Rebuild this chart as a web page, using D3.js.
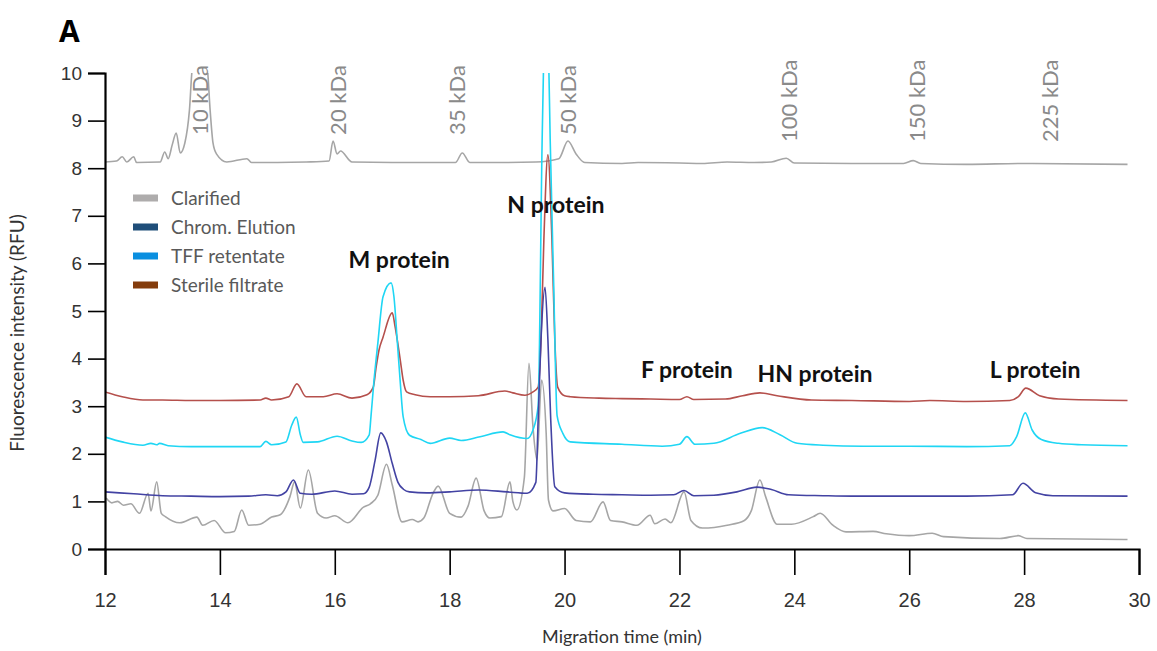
<!DOCTYPE html>
<html>
<head>
<meta charset="utf-8">
<script src="https://cdn.jsdelivr.net/npm/d3@7"></script>
<style>
  html, body { margin: 0; padding: 0; background: #ffffff; }
  svg { display: block; font-family: Lato, "Open Sans", sans-serif; }
</style>
</head>
<body>
<div id="chart"></div>
<script>
// Capillary electrophoresis traces
// each point is [migration time (min), fluorescence (RFU)]

const ladderTrace = [
  [12.0, 8.13], [12.2, 8.15], [12.3, 8.24], [12.38, 8.13], [12.5, 8.24], [12.55, 8.12],
  [12.96, 8.13], [13.04, 8.34], [13.1, 8.2], [13.17, 8.49], [13.24, 8.74], [13.31, 8.32],
  [13.39, 8.53], [13.47, 9.22], [13.52, 10.1], [13.65, 10.5], [13.78, 10.1], [13.83, 9.22],
  [13.88, 8.53], [13.94, 8.3], [14.12, 8.13], [14.47, 8.2], [14.55, 8.12], [15.0, 8.12],
  [15.5, 8.13], [15.9, 8.15], [15.97, 8.57], [16.04, 8.3], [16.1, 8.36], [16.3, 8.13],
  [17.0, 8.12], [18.1, 8.12], [18.22, 8.32], [18.35, 8.12], [19.0, 8.12], [19.5, 8.13],
  [19.9, 8.2], [20.06, 8.57], [20.2, 8.3], [20.35, 8.12], [21.0, 8.1], [21.28, 8.12],
  [22.0, 8.11], [22.4, 8.1], [22.83, 8.13], [23.3, 8.12], [23.6, 8.13], [23.86, 8.21],
  [24.0, 8.11], [25.0, 8.1], [25.9, 8.1], [26.07, 8.16], [26.2, 8.1], [27.0, 8.08],
  [28.0, 8.1], [29.8, 8.08]
];

const clarifiedTrace = [
  [12.02, 1.07], [12.12, 0.97], [12.22, 1.0], [12.32, 0.92], [12.45, 0.95], [12.6, 0.75],
  [12.75, 1.17], [12.8, 0.8], [12.9, 1.41], [12.98, 0.75], [13.05, 0.68], [13.3, 0.55],
  [13.6, 0.67], [13.7, 0.5], [13.9, 0.6], [14.1, 0.34], [14.25, 0.37], [14.38, 0.82],
  [14.5, 0.5], [14.7, 0.52], [14.9, 0.67], [15.05, 0.72], [15.22, 1.1], [15.3, 1.41],
  [15.4, 0.86], [15.54, 1.66], [15.7, 0.75], [15.85, 0.65], [16.0, 0.7], [16.23, 0.55],
  [16.5, 0.88], [16.62, 0.95], [16.75, 1.13], [16.9, 1.78], [17.0, 1.35], [17.17, 0.57],
  [17.35, 0.62], [17.45, 0.57], [17.55, 0.65], [17.71, 1.17], [17.8, 1.32], [18.0, 0.75],
  [18.2, 0.67], [18.32, 0.9], [18.46, 1.49], [18.6, 0.8], [18.7, 0.65], [18.9, 0.68],
  [19.05, 1.41], [19.1, 1.0], [19.17, 0.82], [19.3, 1.5], [19.38, 3.9], [19.45, 2.57],
  [19.52, 1.87], [19.6, 3.55], [19.68, 2.43], [19.72, 1.03], [19.8, 0.8], [20.0, 0.85],
  [20.2, 0.6], [20.45, 0.57], [20.67, 0.99], [20.8, 0.6], [21.0, 0.57], [21.26, 0.5],
  [21.49, 0.71], [21.57, 0.53], [21.75, 0.63], [21.85, 0.55], [22.08, 1.2], [22.2, 0.6],
  [22.4, 0.44], [22.83, 0.5], [23.13, 0.6], [23.25, 0.8], [23.4, 1.45], [23.5, 1.1],
  [23.7, 0.52], [23.95, 0.52], [24.33, 0.68], [24.45, 0.75], [24.67, 0.5], [24.9, 0.36],
  [25.37, 0.37], [25.6, 0.32], [26.0, 0.28], [26.4, 0.33], [26.6, 0.26], [27.58, 0.22],
  [27.9, 0.28], [28.05, 0.22], [29.8, 0.2]
];

const elutionTrace = [
  [12.0, 1.2], [12.5, 1.16], [13.0, 1.12], [13.5, 1.11], [14.0, 1.1], [14.5, 1.11],
  [14.8, 1.14], [15.0, 1.12], [15.15, 1.2], [15.28, 1.45], [15.4, 1.17], [15.6, 1.15],
  [16.0, 1.22], [16.3, 1.15], [16.5, 1.16], [16.6, 1.3], [16.7, 1.85], [16.8, 2.44],
  [16.9, 2.25], [17.0, 1.8], [17.1, 1.4], [17.2, 1.25], [17.3, 1.2], [17.6, 1.18],
  [18.0, 1.2], [18.5, 1.24], [19.0, 1.2], [19.35, 1.17], [19.5, 1.4], [19.54, 2.7],
  [19.59, 4.4], [19.66, 5.5], [19.71, 4.4], [19.76, 2.7], [19.83, 1.31], [20.0, 1.18],
  [20.5, 1.15], [21.0, 1.14], [21.5, 1.13], [21.9, 1.14], [22.08, 1.23], [22.25, 1.12],
  [22.6, 1.13], [23.0, 1.2], [23.35, 1.3], [23.6, 1.25], [23.9, 1.14], [24.5, 1.12],
  [25.0, 1.11], [26.0, 1.11], [27.0, 1.11], [27.8, 1.14], [27.98, 1.38], [28.2, 1.18],
  [28.5, 1.12], [29.8, 1.11]
];

const retentateTrace = [
  [12.0, 2.35], [12.3, 2.25], [12.66, 2.18], [12.8, 2.22], [12.9, 2.19], [12.95, 2.22],
  [13.1, 2.17], [13.5, 2.15], [14.0, 2.15], [14.7, 2.15], [14.8, 2.26], [14.9, 2.19],
  [15.15, 2.25], [15.25, 2.6], [15.33, 2.77], [15.4, 2.4], [15.45, 2.24], [15.7, 2.25],
  [16.04, 2.37], [16.3, 2.27], [16.46, 2.24], [16.6, 2.4], [16.63, 2.78], [16.68, 3.5],
  [16.75, 4.33], [16.84, 5.3], [16.98, 5.59], [17.03, 5.3], [17.09, 4.33], [17.14, 3.5],
  [17.19, 2.78], [17.3, 2.39], [17.5, 2.3], [17.66, 2.22], [18.0, 2.33], [18.2, 2.28],
  [18.53, 2.36], [18.93, 2.46], [19.05, 2.4], [19.35, 2.32], [19.45, 2.5], [19.54, 3.0],
  [19.61, 8.6], [19.64, 10.5], [19.68, 12.0], [19.72, 10.5], [19.75, 8.6], [19.81, 5.6],
  [19.87, 2.8], [19.97, 2.43], [20.1, 2.25], [21.0, 2.2], [21.7, 2.16], [22.0, 2.2],
  [22.13, 2.36], [22.27, 2.2], [22.6, 2.22], [23.06, 2.43], [23.44, 2.55], [23.75, 2.4],
  [24.05, 2.22], [24.5, 2.18], [25.2, 2.16], [26.0, 2.16], [27.0, 2.15], [27.75, 2.17],
  [27.87, 2.36], [28.02, 2.86], [28.14, 2.5], [28.3, 2.3], [28.6, 2.22], [29.0, 2.19],
  [29.8, 2.17]
];

const filtrateTrace = [
  [12.0, 3.3], [12.3, 3.2], [12.66, 3.13], [13.0, 3.13], [13.5, 3.12], [14.0, 3.12],
  [14.7, 3.13], [14.8, 3.17], [14.9, 3.13], [15.2, 3.2], [15.34, 3.47], [15.5, 3.2],
  [15.8, 3.2], [16.04, 3.26], [16.3, 3.17], [16.56, 3.24], [16.67, 3.4], [16.72, 3.82],
  [16.77, 4.18], [16.84, 4.45], [17.0, 4.96], [17.05, 4.67], [17.14, 3.97], [17.19, 3.55],
  [17.25, 3.3], [17.4, 3.24], [17.66, 3.2], [18.0, 3.2], [18.5, 3.22], [18.96, 3.32],
  [19.1, 3.28], [19.31, 3.23], [19.45, 3.3], [19.54, 3.4], [19.59, 4.4], [19.64, 6.5],
  [19.71, 8.28], [19.78, 6.5], [19.83, 4.4], [19.88, 3.4], [20.0, 3.22], [20.1, 3.2],
  [20.6, 3.17], [21.0, 3.16], [21.5, 3.15], [22.0, 3.14], [22.13, 3.2], [22.25, 3.14],
  [22.8, 3.15], [23.1, 3.22], [23.4, 3.28], [23.7, 3.22], [24.3, 3.13], [25.0, 3.12],
  [26.0, 3.1], [26.36, 3.12], [27.0, 3.1], [27.75, 3.12], [27.9, 3.2], [28.03, 3.38],
  [28.27, 3.22], [28.6, 3.15], [29.8, 3.12]
];

// ladder size markers: label, migration time, RFU at the foot of the label
const ladderLabels = ['10 kDa', '20 kDa', '35 kDa', '50 kDa', '100 kDa', '150 kDa', '225 kDa'];
const ladderTimes = [13.65, 16.05, 18.13, 20.06, 23.9, 26.14, 28.45];
const ladderLevels = [8.7, 8.7, 8.7, 8.7, 8.55, 8.55, 8.55];

// protein peak annotations
const proteinLabels = ['M protein', 'N protein', 'F protein', 'HN protein', 'L protein'];
const proteinTimes = [17.12, 19.85, 22.13, 24.36, 28.19];
const proteinLevels = [5.9, 7.06, 3.6, 3.5, 3.6];

const legendLabels = ['Clarified', 'Chrom. Elution', 'TFF retentate', 'Sterile filtrate'];
const legendColors = ['#aeacac', '#1f4e79', '#0a8fe0', '#843c0c'];

const xTicks = [12, 14, 16, 18, 20, 22, 24, 26, 28, 30];
const yTicks = [0, 1, 2, 3, 4, 5, 6, 7, 8, 9, 10];

document.addEventListener('DOMContentLoaded', function() {
  const width = 1157;
  const height = 651;
  const margin = { top: 73, right: 18, bottom: 102, left: 105 };

  const svg = d3.select('#chart')
    .append('svg')
    .attr('width', width)
    .attr('height', height);

  const x = d3.scaleLinear().domain([12, 30]).range([margin.left, width - margin.right]);
  const y = d3.scaleLinear().domain([0, 10]).range([height - margin.bottom, margin.top]);

  // clip traces at the plot frame (ladder + N peak run off the top)
  svg.append('clipPath')
    .attr('id', 'plot-clip')
    .append('rect')
    .attr('x', x(12))
    .attr('y', y(10))
    .attr('width', x(30) - x(12))
    .attr('height', y(0) - y(10));

  const line = d3.line()
    .x(d => x(d[0]))
    .y(d => y(d[1]))
    .curve(d3.curveMonotoneX);

  const traces = [
    { data: ladderTrace, color: '#a6a6a6' },
    { data: clarifiedTrace, color: '#a6a6a6' },
    { data: filtrateTrace, color: '#b5504c' },
    { data: retentateTrace, color: '#1fd6f4' },
    { data: elutionTrace, color: '#4343a3' }
  ];

  const plot = svg.append('g').attr('clip-path', 'url(#plot-clip)');
  plot.selectAll('path')
    .data(traces)
    .enter()
    .append('path')
    .attr('d', d => line(d.data))
    .attr('fill', 'none')
    .attr('stroke', d => d.color)
    .attr('stroke-width', 1.6)
    .attr('stroke-linejoin', 'round');

  // axes
  const xAxis = svg.append('g')
    .attr('transform', `translate(0,${y(0)})`)
    .call(d3.axisBottom(x).tickValues(xTicks).tickSize(26).tickPadding(18).tickFormat(d3.format('d')));
  xAxis.select('.domain').attr('stroke', '#000').attr('stroke-width', 2.2);
  xAxis.selectAll('.tick line').attr('stroke', '#000').attr('stroke-width', 1.6);
  xAxis.selectAll('.tick text')
    .attr('fill', '#333')
    .style('font-size', '20px');

  const yAxis = svg.append('g')
    .attr('transform', `translate(${x(12)},0)`)
    .call(d3.axisLeft(y).tickValues(yTicks).tickSize(17).tickPadding(6));
  yAxis.select('.domain').attr('stroke', '#000').attr('stroke-width', 2.2);
  yAxis.selectAll('.tick line').attr('stroke', '#000').attr('stroke-width', 1.6);
  yAxis.selectAll('.tick text')
    .attr('fill', '#333')
    .style('font-size', '19px');

  // axis titles
  svg.append('text')
    .attr('x', (x(12) + x(30)) / 2)
    .attr('y', 643)
    .attr('text-anchor', 'middle')
    .attr('fill', '#333')
    .style('font-size', '18px')
    .text('Migration time (min)');

  svg.append('text')
    .attr('transform', `translate(24,${(y(0) + y(10)) / 2 + 22}) rotate(-90)`)
    .attr('text-anchor', 'middle')
    .attr('fill', '#333')
    .style('font-size', '19px')
    .text('Fluorescence intensity (RFU)');

  // panel letter
  svg.append('text')
    .attr('x', 59)
    .attr('y', 42)
    .attr('fill', '#000')
    .style('font-family', '"Open Sans", Lato, sans-serif')
    .style('font-size', '30px')
    .style('font-weight', 'bold')
    .text('A');

  // ladder size labels
  svg.append('g')
    .selectAll('text')
    .data(ladderLabels)
    .enter()
    .append('text')
    .attr('transform', (d, i) => `translate(${x(ladderTimes[i])},${y(ladderLevels[i])}) rotate(-90)`)
    .attr('dy', '0.36em')
    .attr('fill', '#8a8a8a')
    .style('font-size', '22px')
    .text(d => d);

  // protein annotations
  svg.append('g')
    .selectAll('text')
    .data(proteinLabels)
    .enter()
    .append('text')
    .attr('x', (d, i) => x(proteinTimes[i]))
    .attr('y', (d, i) => y(proteinLevels[i]))
    .attr('text-anchor', 'middle')
    .attr('fill', '#111')
    .style('font-size', '23px')
    .style('font-weight', 'bold')
    .text(d => d);

  // legend
  const legend = svg.append('g').attr('transform', 'translate(133,198)');
  legendLabels.forEach((label, i) => {
    const row = legend.append('g').attr('transform', `translate(0,${i * 29})`);
    row.append('rect')
      .attr('x', 0)
      .attr('y', -3.5)
      .attr('width', 25)
      .attr('height', 7)
      .attr('fill', legendColors[i]);
    row.append('text')
      .attr('x', 38)
      .attr('y', 0)
      .attr('dy', '0.35em')
      .attr('fill', '#595959')
      .style('font-size', '19px')
      .text(label);
  });
});
</script>
</body>
</html>
